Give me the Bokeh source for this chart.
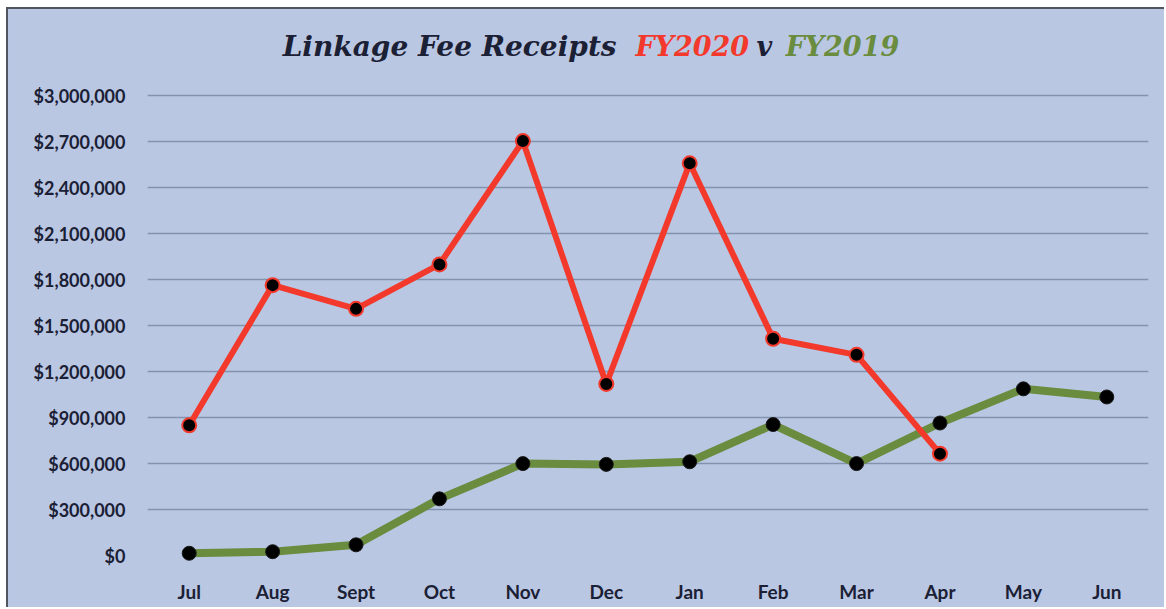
from bokeh.plotting import figure
from bokeh.models import ColumnDataSource, FactorRange, Range1d, FixedTicker, Label, CustomJSTickFormatter
from bokeh.embed import file_html
from bokeh.resources import INLINE

months = ["Jul", "Aug", "Sept", "Oct", "Nov", "Dec", "Jan", "Feb", "Mar", "Apr", "May", "Jun"]
fy2020 = [850000, 1765000, 1610000, 1900000, 2705000, 1120000, 2560000, 1415000, 1310000, 665000]
fy2019 = [15000, 25000, 70000, 370000, 600000, 595000, 612000, 855000, 600000, 865000, 1088000, 1035000]
y_ticks = [0, 300000, 600000, 900000, 1200000, 1500000, 1800000, 2100000, 2400000, 2700000, 3000000]
title_parts = ["Linkage Fee Receipts", "FY2020", "v", "FY2019"]

BG = "#b9c7e3"
RED = "#f2392b"
GREEN = "#6a8c3e"
TXT = "#1b2035"

p = figure(width=1158, height=600, x_range=FactorRange(*months),
           y_range=Range1d(-65000, 3440000), output_backend="svg",
           toolbar_location=None, background_fill_color=None, border_fill_color=BG,
           min_border_left=139, min_border_right=18, min_border_top=19, min_border_bottom=44)
p.outline_line_color = None
p.styles = {"margin-top": "7px", "margin-left": "6px", "background-color": BG,
            "border-top": "2px solid #50555f", "border-left": "2px solid #50555f"}

src20 = ColumnDataSource(dict(m=months[:len(fy2020)], v=fy2020))
src19 = ColumnDataSource(dict(m=months, v=fy2019))

p.line("m", "v", source=src19, line_color=GREEN, line_width=8)
p.scatter("m", "v", source=src19, size=14, fill_color="black", line_color="#1a1a1a", line_width=1)
p.line("m", "v", source=src20, line_color=RED, line_width=6)
p.scatter("m", "v", source=src20, size=14, fill_color="black", line_color=RED, line_width=2)

p.yaxis.ticker = FixedTicker(ticks=y_ticks)
p.ygrid.ticker = FixedTicker(ticks=y_ticks[1:])
p.yaxis.formatter = CustomJSTickFormatter(code="return '$' + Math.round(tick).toLocaleString('en-US');")
p.xgrid.grid_line_color = None
p.ygrid.grid_line_color = "#8592ad"
p.ygrid.grid_line_width = 1.5
for ax in (p.xaxis, p.yaxis):
    ax.axis_line_color = None
    ax.major_tick_line_color = None
    ax.minor_tick_line_color = None
    ax.major_label_text_color = TXT
    ax.major_label_text_font = "Lato"
    ax.major_label_text_font_style = "bold"
p.yaxis.major_label_text_font_size = "18px"
p.yaxis.major_label_standoff = 16
p.xaxis.major_label_text_font_size = "19px"
p.xaxis.major_label_standoff = 8

# title pieces, positioned on the categorical axis' synthetic coordinates
title_x = [1.62, 5.85, 7.30, 7.65]
title_sizes = ["28px", "27px", "27px", "27px"]
title_colors = [TXT, RED, TXT, GREEN]
for txt, col, x, fs in zip(title_parts, title_colors, title_x, title_sizes):
    p.add_layout(Label(x=x, y=3322000, text=txt,
                       text_color=col, text_font="DejaVu Serif", text_font_style="bold italic",
                       text_font_size=fs, text_baseline="alphabetic"))

open("out.html", "w").write(file_html(p, INLINE))
